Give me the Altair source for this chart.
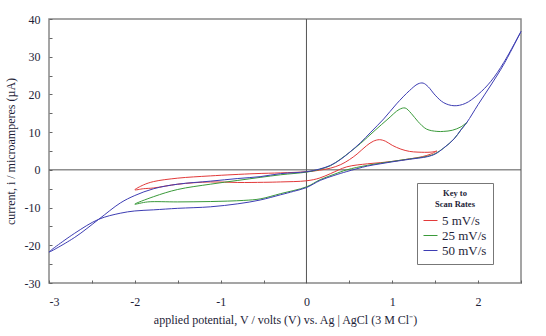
import altair as alt
import pandas as pd

# --- data (potential V, current uA), loop order ---
red_x = [1.52, 1.45, 1.3, 1.2, 1.1, 1.0, 0.92, 0.85, 0.78, 0.7, 0.59, 0.5, 0.4, 0.28, 0.15, 0.0,
         -0.3, -0.6, -1.12, -1.5, -1.78, -1.9, -2.0,
         -1.9, -1.78, -1.5, -1.12, -0.8, -0.5, -0.3, 0.0, 0.15, 0.28, 0.47, 0.71, 0.86, 1.02,
         1.2, 1.35, 1.45, 1.52]
red_y = [5.0, 4.7, 4.7, 4.9, 5.5, 6.5, 7.6, 8.0, 7.6, 6.4, 4.2, 2.7, 1.4, 0.45, -0.1, -0.5,
         -0.8, -1.0, -1.6, -2.2, -3.1, -4.0, -5.3,
         -5.0, -4.8, -3.8, -3.2, -3.35, -3.3, -3.2, -2.9, -2.2, -1.0, 0.8, 1.6, 1.9, 2.3,
         2.9, 3.5, 4.2, 5.0]

green_x = [1.87, 1.8, 1.7, 1.6, 1.52, 1.4, 1.3, 1.22, 1.15, 1.08, 0.95, 0.8, 0.63, 0.5, 0.4,
           0.28, 0.15, 0.0, -0.3, -0.54, -0.8, -1.12, -1.5, -1.78, -2.0,
           -1.85, -1.5, -1.12, -0.73, -0.54, -0.3, 0.0, 0.16, 0.32, 0.47, 0.71, 1.02, 1.2,
           1.41, 1.5, 1.6, 1.72, 1.8, 1.87]
green_y = [12.6, 11.4, 10.5, 10.2, 10.2, 10.8, 12.8, 15.0, 16.4, 16.0, 13.5, 10.5, 7.0, 4.6, 2.9,
           1.1, 0.1, -0.6, -1.3, -2.0, -2.8, -3.8, -5.2, -7.1, -9.1,
           -8.5, -8.5, -8.4, -8.1, -7.7, -6.3, -4.5, -2.6, -1.2, 0.0, 1.2, 2.3, 2.9,
           3.6, 4.3, 5.8, 8.2, 10.6, 12.6]

blue_x = [2.5, 2.3, 2.15, 2.0, 1.85, 1.72, 1.6, 1.5, 1.42, 1.36, 1.3, 1.2, 1.05, 0.9, 0.75, 0.63,
          0.51, 0.4, 0.28, 0.15, 0.0, -0.3, -0.54, -0.8, -1.12, -1.5, -1.78, -2.0, -2.17, -2.42,
          -2.7, -3.0,
          -2.7, -2.42, -2.17, -2.0, -1.78, -1.5, -1.12, -0.8, -0.54, -0.3, -0.15, 0.0, 0.16,
          0.32, 0.47, 0.71, 0.86, 1.02, 1.2, 1.41, 1.5, 1.6, 1.72, 1.8, 1.87, 2.0, 2.15, 2.3, 2.5]
blue_y = [36.7, 28.5, 23.5, 20.0, 17.6, 17.0, 17.8, 19.8, 22.0, 23.0, 22.8, 21.0, 17.5, 13.5, 10.0, 7.2,
          4.8, 2.8, 1.2, 0.2, -0.5, -1.0, -1.8, -2.3, -3.0, -3.8, -5.0, -6.8, -8.8, -13.1,
          -17.9, -21.8,
          -16.8, -13.1, -11.5, -10.9, -10.6, -10.2, -9.8, -9.0, -8.0, -6.6, -5.7, -4.7, -2.8,
          -1.5, -0.45, 1.0, 1.6, 2.2, 2.8, 3.5, 4.2, 5.8, 8.2, 10.6, 12.6, 17.3, 22.5, 28.0, 36.7]

series_names = ["5 mV/s", "25 mV/s", "50 mV/s"]
series_colors = ["#e23a3a", "#3a9a3a", "#3d3db3"]

x_ticks = [-3, -2.5, -2, -1.5, -1, -0.5, 0, 0.5, 1, 1.5, 2, 2.5]
y_ticks = [-30, -25, -20, -15, -10, -5, 0, 5, 10, 15, 20, 25, 30, 35, 40]

x_title = "applied potential, V / volts (V) vs. Ag | AgCl (3 M Cl⁻)"
y_title = "current, i / microamperes (µA)"

rows = []
for name, xs, ys in zip(series_names, [red_x, green_x, blue_x], [red_y, green_y, blue_y]):
    for i, (a, b) in enumerate(zip(xs, ys)):
        rows.append({"rate": name, "V": a, "I": b, "idx": i})
df = pd.DataFrame(rows)

FONT = "Liberation Serif"
LABEL_COLOR = "#1e1e38"

xscale = alt.Scale(domain=[-3, 2.5], nice=False, zero=False)
yscale = alt.Scale(domain=[-30, 40], nice=False, zero=False)

x_axis = alt.Axis(values=x_ticks, offset=-3, tickSize=3, domain=False, grid=False,
                  labelExpr="datum.value % 1 === 0 ? '' + datum.value : ''",
                  labelOverlap=False, labelPadding=13, labelFontSize=12,
                  titleFontSize=12, titlePadding=7, tickColor="#666")
y_axis = alt.Axis(values=y_ticks, offset=-3, tickSize=3, domain=False, grid=False,
                  labelExpr="datum.value % 10 === 0 ? '' + datum.value : ''",
                  labelOverlap=False, labelPadding=9, labelFontSize=12,
                  titleFontSize=12, titlePadding=7, tickColor="#666")

lines = alt.Chart(df).mark_line(strokeWidth=1, interpolate="catmull-rom").encode(
    x=alt.X("V:Q", scale=xscale, title=x_title, axis=x_axis),
    y=alt.Y("I:Q", scale=yscale, title=y_title, axis=y_axis),
    color=alt.Color("rate:N", scale=alt.Scale(domain=series_names, range=series_colors),
                    legend=alt.Legend(title=["Key to", "Scan Rates"], orient="none",
                                      legendX=368, legendY=164, direction="vertical",
                                      titleFontSize=8.5, titleFontWeight="bold",
                                      titleAnchor="middle", titleAlign="center",
                                      labelFontSize=13, symbolType="stroke",
                                      symbolSize=196, symbolStrokeWidth=1,
                                      strokeColor="#777", fillColor="white",
                                      padding=6, rowPadding=0, titlePadding=5,
                                      labelColor=LABEL_COLOR, titleColor=LABEL_COLOR)),
    detail="rate:N",
    order="idx:Q",
)

zero_df = pd.DataFrame({"V": [0], "I": [0]})
vline = alt.Chart(zero_df).mark_rule(color="#555", strokeWidth=1).encode(
    x=alt.X("V:Q", scale=xscale, title=x_title, axis=x_axis))
hline = alt.Chart(zero_df).mark_rule(color="#555", strokeWidth=1).encode(
    y=alt.Y("I:Q", scale=yscale, title=y_title, axis=y_axis))

chart = alt.layer(vline, hline, lines).properties(
    width=472, height=264,
    autosize=alt.AutoSizeParams(type="none"),
    padding={"left": 49, "top": 19, "right": 25, "bottom": 53},
).configure_view(stroke="#888", strokeWidth=1.5).configure_axis(
    labelFont=FONT, titleFont=FONT, labelColor=LABEL_COLOR, titleColor=LABEL_COLOR,
    titleFontWeight="normal", labelOverlap=False
).configure_legend(labelFont=FONT, titleFont=FONT)

chart.save("out.html", embed_options={"renderer": "svg", "actions": False})
